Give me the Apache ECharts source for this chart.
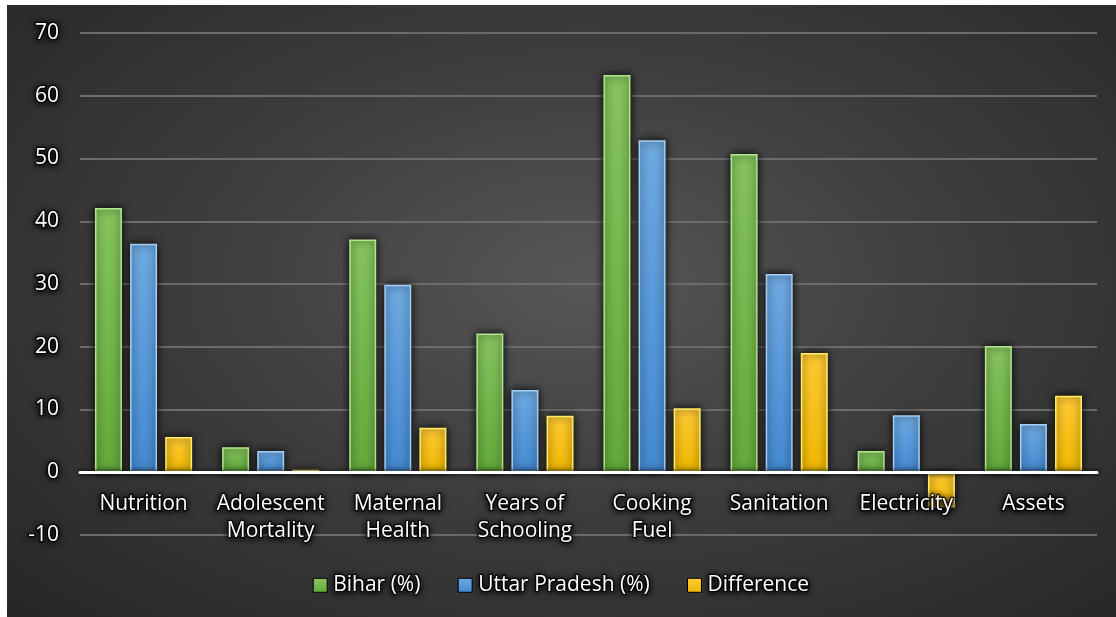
<!DOCTYPE html>
<html>
<head>
<meta charset="utf-8">
<script src="https://cdn.jsdelivr.net/npm/echarts@6/dist/echarts.min.js"></script>
<style>
html,body{margin:0;padding:0;background:#fff;width:1116px;height:617px;overflow:hidden;}
#c{position:absolute;left:7px;top:5px;width:1109px;height:612px;
background:radial-gradient(ellipse at 52% 45%, #575757 0%, #3e3e3e 45%, #262626 100%);}
</style>
</head>
<body>
<div id="c"></div>
<script>
const categories = ['Nutrition', 'Adolescent\nMortality', 'Maternal\nHealth', 'Years of\nSchooling', 'Cooking\nFuel', 'Sanitation', 'Electricity', 'Assets'];
const bihar = [42.1, 4.0, 37.1, 22.1, 63.3, 50.7, 3.4, 20.1];
const uttarPradesh = [36.4, 3.4, 29.9, 13.1, 52.9, 31.6, 9.1, 7.7];
const difference = [5.6, 0.4, 7.1, 9.0, 10.2, 19.0, -5.6, 12.2];
const seriesNames = ['Bihar (%)', 'Uttar Pradesh (%)', 'Difference'];
const yTicks = {min: -10, max: 70, interval: 10};

const el = document.getElementById('c');
const chart = echarts.init(el, null, {renderer: 'canvas'});
const font = '"Open Sans", Lato, sans-serif';
const gridTop = 28, gridBottom = 82;
const plotH = el.clientHeight - gridTop - gridBottom;
// distance from grid bottom (min) up to the zero line, in pixels
const zeroOffset = plotH * (0 - yTicks.min) / (yTicks.max - yTicks.min);

function grad(top, bottom) {
  return new echarts.graphic.LinearGradient(0, 0, 0, 1, [
    {offset: 0, color: top}, {offset: 1, color: bottom}
  ]);
}
const textFx = {textShadowColor: '#000', textShadowBlur: 6, textShadowOffsetX: 0, textShadowOffsetY: 1,
  textBorderColor: 'rgba(0,0,0,0.8)', textBorderWidth: 2.5};
function barSeries(name, data, fillTop, fillBottom, border) {
  return {
    name: name, type: 'bar', data: data, barWidth: 27, barGap: '30%',
    itemStyle: {
      color: grad(fillTop, fillBottom), borderColor: border, borderWidth: 1.5,
      shadowColor: 'rgba(0,0,0,1)', shadowBlur: 8
    }
  };
}
chart.setOption({
  animation: false,
  grid: {left: 73, right: 19, top: gridTop, bottom: gridBottom},
  legend: {
    bottom: 15, left: 'center',
    itemWidth: 14, itemHeight: 14, itemGap: 36,
    icon: 'rect',
    itemStyle: {borderColor: '#000', borderWidth: 1},
    textStyle: Object.assign({color: '#ffffff', fontSize: 21, fontFamily: font, padding: [0, 0, 0, 1]}, textFx),
    data: seriesNames
  },
  xAxis: {
    type: 'category', data: categories, z: 10,
    position: 'bottom', offset: -zeroOffset,
    axisLine: {onZero: false, lineStyle: {color: '#ffffff', width: 3, shadowColor: '#000', shadowBlur: 4}},
    axisTick: {show: false},
    axisLabel: Object.assign({color: '#ffffff', fontSize: 21, fontFamily: font, margin: 18, lineHeight: 27, interval: 0}, textFx)
  },
  yAxis: {
    type: 'value', min: yTicks.min, max: yTicks.max, interval: yTicks.interval,
    axisLine: {show: false}, axisTick: {show: false},
    splitLine: {lineStyle: {color: '#6c6c6c', width: 2}},
    axisLabel: Object.assign({color: '#ffffff', fontSize: 21, fontFamily: font, margin: 21}, textFx)
  },
  series: [
    barSeries(seriesNames[0], bihar, '#86c45e', '#63a93a', '#b4e68f'),
    barSeries(seriesNames[1], uttarPradesh, '#6eaae2', '#4389d2', '#a6cff5'),
    barSeries(seriesNames[2], difference, '#ffc935', '#efb800', '#ffee66')
  ]
});
</script>
</body>
</html>
